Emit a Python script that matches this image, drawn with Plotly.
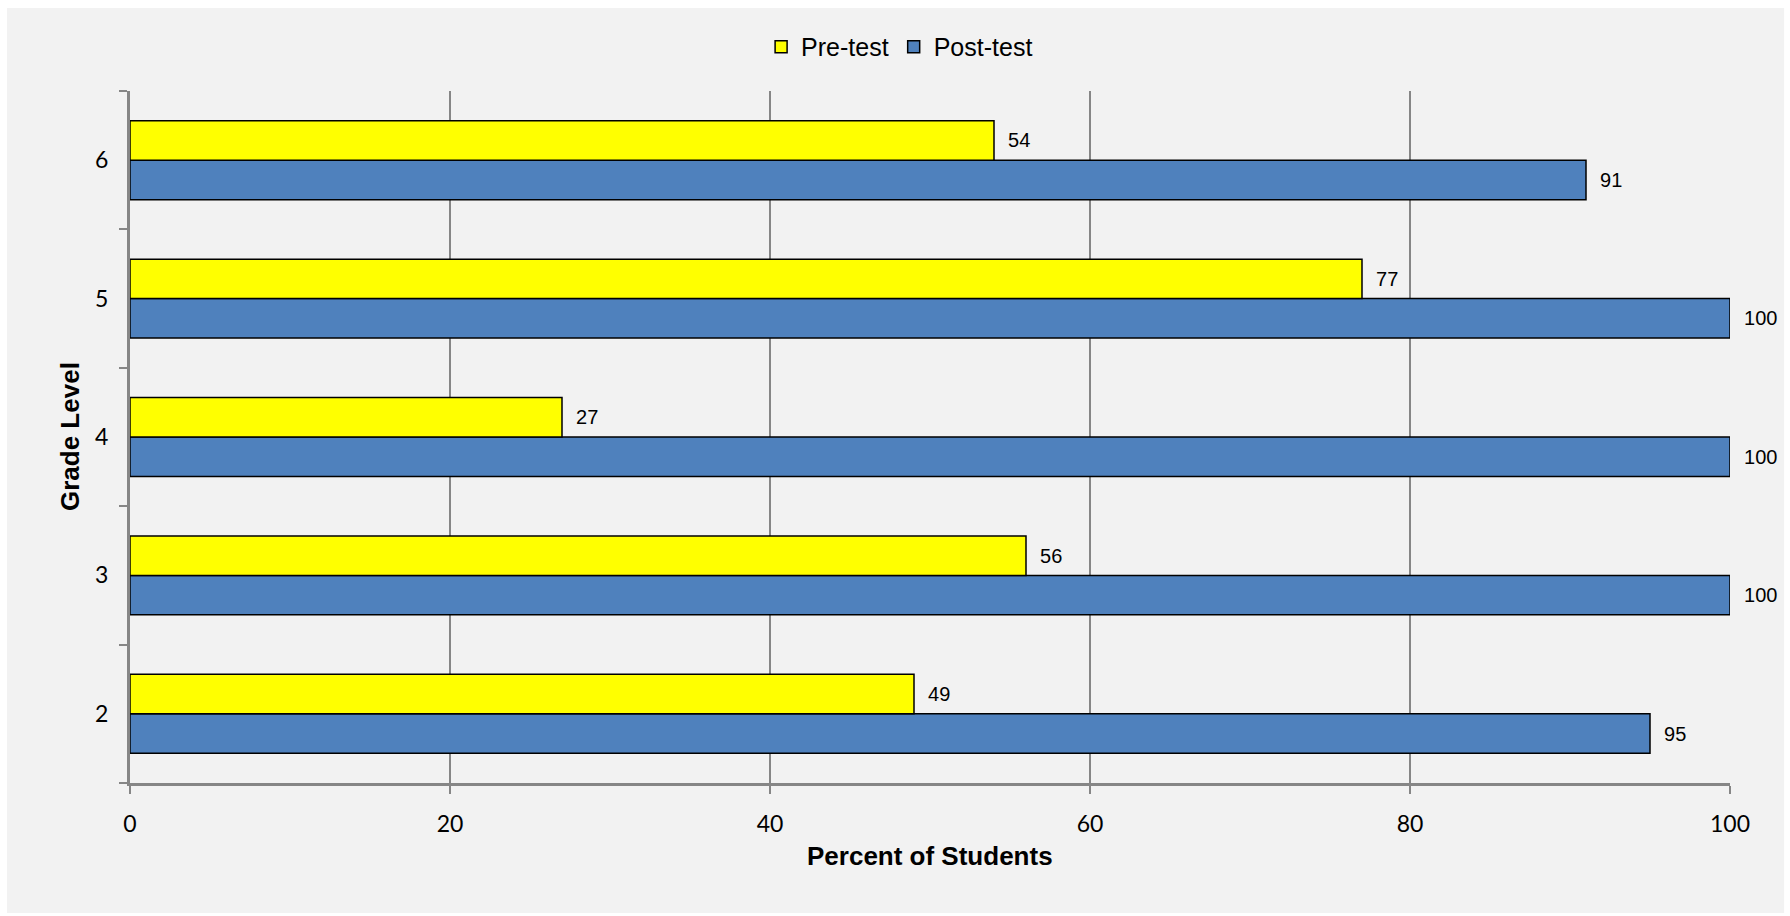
import plotly.graph_objects as go

grades = ["2", "3", "4", "5", "6"]
pre_test = [49, 56, 27, 77, 54]
post_test = [95, 100, 100, 100, 91]
x_ticks = [0, 20, 40, 60, 80, 100]

AXIS = "#868686"
BG = "#f2f2f2"

fig = go.Figure()
fig.add_trace(go.Bar(
    y=grades, x=post_test, orientation="h", name="Post-test",
    marker=dict(color="#4f81bd", line=dict(color="black", width=1.5)),
    text=post_test, texttemplate="\u00a0\u00a0%{x}", textposition="outside",
    textfont=dict(family="Liberation Sans", size=20, color="black"),
    cliponaxis=False, legendrank=2,
))
fig.add_trace(go.Bar(
    y=grades, x=pre_test, orientation="h", name="Pre-test",
    marker=dict(color="#ffff00", line=dict(color="black", width=1.5)),
    text=pre_test, texttemplate="\u00a0\u00a0%{x}", textposition="outside",
    textfont=dict(family="Liberation Sans", size=20, color="black"),
    cliponaxis=False, legendrank=1,
))

fig.update_layout(
    width=1790, height=916,
    margin=dict(l=130, r=60, t=91, b=133, pad=0),
    paper_bgcolor="white", plot_bgcolor=BG,
    barmode="group", bargap=0.43, bargroupgap=0,
    showlegend=True,
    legend=dict(orientation="h", x=0.481, y=1.0636, xanchor="center", yanchor="middle",
                font=dict(family="Liberation Sans", size=25, color="black"),
                bgcolor="rgba(0,0,0,0)", itemwidth=30),
    xaxis=dict(range=[0, 100], tickvals=x_ticks, showgrid=True, gridcolor=AXIS, gridwidth=2,
               zeroline=False, showline=True, linecolor=AXIS, linewidth=3,
               ticks="outside", ticklen=8, tickcolor=AXIS, tickwidth=2,
               ticklabelstandoff=10,
               tickfont=dict(family="Lato", size=23, color="black")),
    yaxis=dict(type="category", categoryorder="array", categoryarray=grades,
               showgrid=False, zeroline=False, showline=True, linecolor=AXIS, linewidth=3,
               ticks="outside", ticklen=8, tickcolor=AXIS, tickwidth=2, tickson="boundaries",
               ticklabelstandoff=14,
               tickfont=dict(family="Lato", size=23, color="black")),
    shapes=[dict(type="rect", xref="paper", yref="paper", x0=-0.0769, x1=1.0338,
                 y0=-0.188, y1=1.12, fillcolor=BG, line=dict(width=0), layer="below")],
    annotations=[
        dict(text="<b>Percent of Students</b>", xref="paper", yref="paper", x=0.5, y=-0.1055,
             xanchor="center", yanchor="middle", showarrow=False,
             font=dict(family="Liberation Sans", size=26, color="black")),
        dict(text="<b>Grade Level</b>", xref="paper", yref="paper", x=-0.0375, y=0.5,
             xanchor="center", yanchor="middle", showarrow=False, textangle=-90,
             font=dict(family="Liberation Sans", size=26, color="black")),
    ],
)

fig.write_html("out.html")
